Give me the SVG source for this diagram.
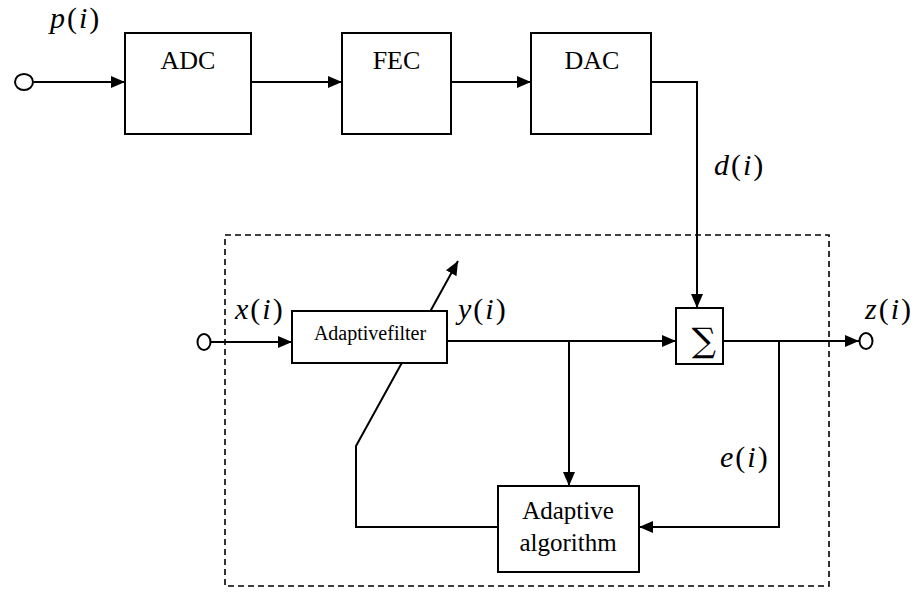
<svg xmlns="http://www.w3.org/2000/svg" width="918" height="596" viewBox="0 0 918 596">
<style>
.box{fill:#fff;stroke:#000;stroke-width:2}
.arr{fill:none;stroke:#000;stroke-width:2;marker-end:url(#ah)}
.t{font-family:'Liberation Serif',serif;font-size:26px;fill:#000;text-anchor:middle}
.m{font-family:'Liberation Serif',serif;font-size:30px;letter-spacing:2px;fill:#000}
.it{font-style:italic}
.port{fill:#fff;stroke:#000;stroke-width:2}
</style>
<defs>
<marker id="ah" markerUnits="userSpaceOnUse" markerWidth="14" markerHeight="12" refX="14" refY="6" orient="auto">
<path d="M0,0 L14,6 L0,12 z" fill="#000"/>
</marker>
</defs>
<rect x="225" y="235" width="604" height="351" fill="none" stroke="#000" stroke-width="1.6" stroke-dasharray="6,4"/>
<g id="connectors">
<line class="arr" x1="34" y1="82" x2="125" y2="82"/>
<line class="arr" x1="251" y1="82" x2="342" y2="82"/>
<line class="arr" x1="451" y1="82" x2="531" y2="82"/>
<polyline class="arr" points="651,82 697,82 697,308"/>
<line class="arr" x1="211" y1="342" x2="292" y2="342"/>
<line class="arr" x1="447" y1="341" x2="676" y2="341"/>
<line class="arr" x1="569" y1="341" x2="569" y2="486"/>
<line class="arr" x1="723" y1="341" x2="859" y2="341"/>
<polyline class="arr" points="779,341 779,527 639,527"/>
<polyline class="arr" points="498,527 356,527 356,446 458,261"/>
</g>
<g id="p-in"><ellipse class="port" cx="24" cy="82" rx="9" ry="8"/></g>
<g id="x-in"><ellipse class="port" cx="204" cy="342" rx="6.5" ry="8"/></g>
<g id="z-out"><ellipse class="port" cx="866" cy="341" rx="6.5" ry="8"/></g>
<g id="adc"><rect class="box" x="125" y="33" width="126" height="101"/><text class="t" x="188" y="69">ADC</text></g>
<g id="fec"><rect class="box" x="342" y="33" width="109" height="101"/><text class="t" x="396.5" y="69">FEC</text></g>
<g id="dac"><rect class="box" x="531" y="33" width="120" height="101"/><text class="t" x="592" y="69">DAC</text></g>
<g id="filter"><rect class="box" x="292" y="311" width="155" height="52"/><text class="t" x="370" y="340" style="font-size:20px">Adaptivefilter</text></g>
<g id="sum"><rect class="box" x="676" y="308" width="47" height="56"/><text x="704" y="352" style="font-family:'DejaVu Serif',serif;font-size:34px;text-anchor:middle">∑</text></g>
<g id="algo"><rect class="box" x="498" y="486" width="141" height="86"/><text class="t" x="568" y="519" style="font-size:25px">Adaptive</text><text class="t" x="568" y="551" style="font-size:25px">algorithm</text></g>
<g id="labels">
<text class="m" x="50" y="28"><tspan class="it">p</tspan>(<tspan class="it">i</tspan>)</text>
<text class="m" x="714" y="175"><tspan class="it">d</tspan>(<tspan class="it">i</tspan>)</text>
<text class="m" x="235" y="319"><tspan class="it">x</tspan>(<tspan class="it">i</tspan>)</text>
<text class="m" x="458" y="319"><tspan class="it">y</tspan>(<tspan class="it">i</tspan>)</text>
<text class="m" x="865" y="319"><tspan class="it">z</tspan>(<tspan class="it">i</tspan>)</text>
<text class="m" x="720" y="467"><tspan class="it">e</tspan>(<tspan class="it">i</tspan>)</text>
</g>
</svg>
